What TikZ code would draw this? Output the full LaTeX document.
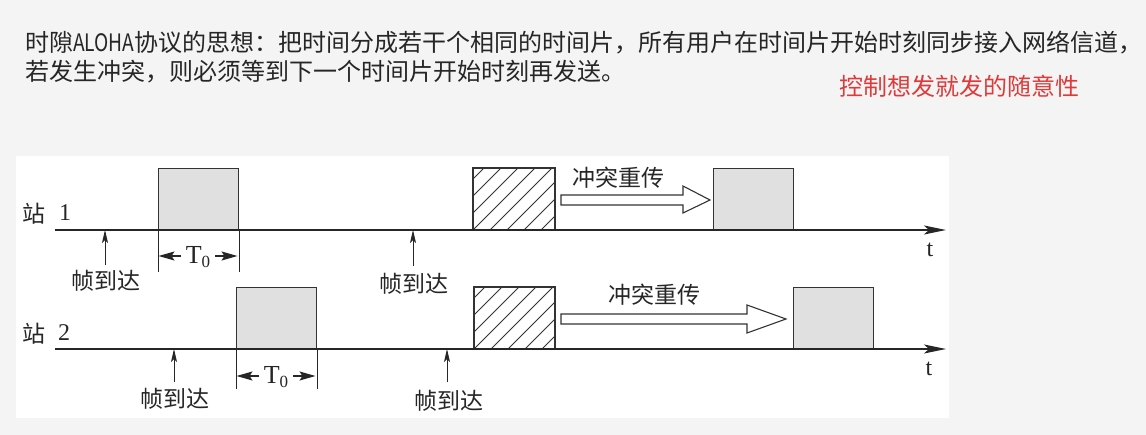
\documentclass[tikz,border=0pt]{standalone}
\usepackage{fontspec}
\setmainfont{Liberation Serif}
\newfontfamily\cjk{Noto Sans CJK SC}
\usetikzlibrary{arrows.meta}
\definecolor{slidebg}{HTML}{F4F4F4}
\definecolor{slotgray}{HTML}{E0E0E0}
\definecolor{redtxt}{HTML}{DD3B3B}
\definecolor{titletxt}{HTML}{262626}
\tikzset{
  titleline/.style={font=\cjk\fontsize{24}{24}\selectfont, anchor=base west, inner sep=0pt, text=titletxt},
  lbl/.style={font=\cjk\fontsize{23}{23}\selectfont, inner sep=0pt, text=black!85},
  ser/.style={font=\fontsize{24}{24}\selectfont, inner sep=0pt, text=black!85},
  axisline/.style={line width=1.8pt, draw=black!85, -{Stealth[length=22pt,width=9pt,inset=5pt]}},
  slotbox/.style={draw=black!80, line width=1.1pt, fill=slotgray, minimum width=80pt, minimum height=61pt, anchor=south west, inner sep=0pt},
  hatchbox/.style={draw=black!80, line width=1.1pt, fill=white, minimum width=81pt, minimum height=61pt, anchor=south west, inner sep=0pt},
  arrivearrow/.style={line width=1pt, draw=black!85, -{Stealth[length=13pt,width=6pt,inset=3pt]}},
  dimarrow/.style={line width=1.2pt, draw=black!85, -{Stealth[length=16pt,width=9pt,inset=3pt]}},
  extline/.style={line width=1pt, draw=black!85},
  blockarrow/.style={line width=1.1pt, draw=black!80, fill=white, line join=miter},
  tzero/.style={font=\fontsize{26}{26}\selectfont, inner sep=0pt, text=black!85},
}
\begin{document}
\begin{tikzpicture}[x=1pt,y=-1pt]
\useasboundingbox (0,0) rectangle (1146,435);
\fill[slidebg] (0,0) rectangle (1146,435);
\fill[white] (16,156) rectangle (949,418);

% title text
\node[titleline] (t1) at (25,52) {时隙\scalebox{0.8}[1]{ALOHA}协议的思想：把时间分成若干个相同的时间片，所有用户在时间片开始时刻同步接入网络信道，};
\node[titleline] (t2) at (25,81) {若发生冲突，则必须等到下一个时间片开始时刻再发送。};
\node[titleline, text=redtxt, anchor=base] (red) at (959,96) {控制想发就发的随意性};

% ===== station 1 =====
\node[lbl] (s1) at (34,214) {站};
\node[ser] (n1) at (65,213) {1};
\coordinate (ax1s) at (55,230);
\coordinate (ax1e) at (946,230);
\node[slotbox] (b11) at (158,230) {};
\node[hatchbox] (h1) at (473,230) {};
\begin{scope}
  \clip (h1.south west) rectangle (h1.north east);
  \foreach \k in {-4,...,5} \draw[line width=0.9pt, black!80] (473+\k*17,230) -- ++(64,-64);
\end{scope}
\draw[line width=1.1pt, black!80] (h1.south west) rectangle (h1.north east);
\node[slotbox] (b12) at (713,230) {};
\draw[axisline] (ax1s) -- (ax1e);
\node[ser] (tt1) at (930,250) {t};

% arrivals station 1
\coordinate (a11) at (105,230);
\coordinate (a11s) at (105,265);
\node[lbl] (fa11) at (106,281) {帧到达};
\draw[arrivearrow] (a11s) -- (a11);
\coordinate (a12) at (413,230);
\coordinate (a12s) at (413,266);
\node[lbl] (fa12) at (414,284) {帧到达};
\draw[arrivearrow] (a12s) -- (a12);

% T0 station 1
\draw[extline] (b11.south west) -- ++(0,42);
\draw[extline] (b11.south east) -- ++(0,42);
\node[tzero] (T01) at (198,257) {T\raisebox{-0.35ex}{\fontsize{17}{17}\selectfont 0}};
\coordinate (d11) at (158.5,256);
\coordinate (d12) at (237.5,256);
\coordinate (e11) at (181,256);
\coordinate (e12) at (215,256);
\draw[dimarrow] (e11) -- (d11);
\draw[dimarrow] (e12) -- (d12);

% retransmit arrow station 1
\node[lbl] (cr1) at (618,178) {冲突重传};
\draw[blockarrow] (561,195) -- (683,195) -- (683,186) -- (710,200) -- (683,213) -- (683,205) -- (561,205) -- cycle;

% ===== station 2 =====
\node[lbl] (s2) at (34,334) {站};
\node[ser] (n2) at (64,333) {2};
\coordinate (ax2s) at (55,349);
\coordinate (ax2e) at (946,349);
\node[slotbox] (b21) at (236,349) {};
\node[hatchbox, minimum width=80pt] (h2) at (474,349) {};
\begin{scope}
  \clip (h2.south west) rectangle (h2.north east);
  \foreach \k in {-4,...,5} \draw[line width=0.9pt, black!80] (474+\k*17,349) -- ++(64,-64);
\end{scope}
\draw[line width=1.1pt, black!80] (h2.south west) rectangle (h2.north east);
\node[slotbox] (b22) at (793,349) {};
\draw[axisline] (ax2s) -- (ax2e);
\node[ser] (tt2) at (929,369) {t};

% arrivals station 2
\coordinate (a21) at (174,349);
\coordinate (a21s) at (174,382);
\node[lbl] (fa21) at (175,399) {帧到达};
\draw[arrivearrow] (a21s) -- (a21);
\coordinate (a22) at (447,349);
\coordinate (a22s) at (447,382);
\node[lbl] (fa22) at (449,401) {帧到达};
\draw[arrivearrow] (a22s) -- (a22);

% T0 station 2
\draw[extline] (b21.south west) -- ++(0,40);
\draw[extline] (b21.south east) -- ++(0,40);
\node[tzero] (T02) at (276,377) {T\raisebox{-0.35ex}{\fontsize{17}{17}\selectfont 0}};
\coordinate (d21) at (236.5,376);
\coordinate (d22) at (315.5,376);
\coordinate (e21) at (259,376);
\coordinate (e22) at (293,376);
\draw[dimarrow] (e21) -- (d21);
\draw[dimarrow] (e22) -- (d22);

% retransmit arrow station 2
\node[lbl] (cr2) at (654,295) {冲突重传};
\draw[blockarrow] (561,314) -- (747,314) -- (747,305) -- (786,319) -- (747,333) -- (747,324) -- (561,324) -- cycle;
\end{tikzpicture}
\end{document}
